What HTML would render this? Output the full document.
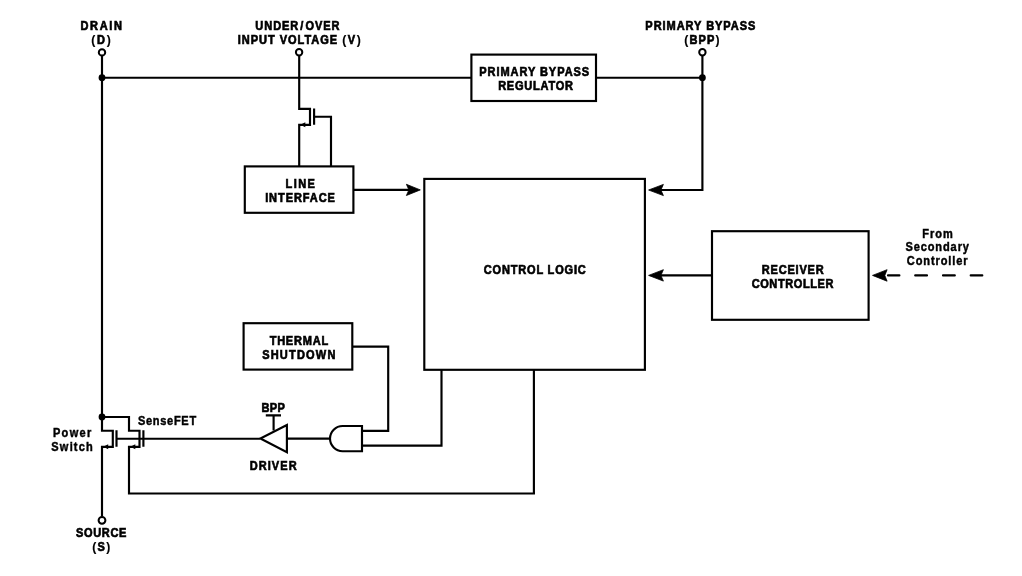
<!DOCTYPE html>
<html><head><meta charset="utf-8">
<style>
html,body{margin:0;padding:0;background:#fff;}
svg{display:block;will-change:transform;}
text{font-family:"Liberation Sans",sans-serif;font-weight:bold;font-size:12px;fill:#000;stroke:#000;stroke-width:0.65px;}
.lc{stroke-width:0.45px;}
.p{font-size:13.2px;stroke-width:0.15px;}
</style></head><body>
<svg width="1022" height="576" viewBox="0 0 1022 576">
<g fill="none" stroke="#000" stroke-width="2.15" stroke-linejoin="miter" stroke-linecap="butt">
<!-- top bus -->
<path d="M102,77.7H471.4M596,77.7H702.4"/>
<!-- drain vertical & power switch -->
<path d="M102,56V430.7H112.8V446.8H102V516.5"/>
<path d="M102,417H129V430.7H139.5V446.8H129V493.5H533.9V369.8"/>
<path d="M116.5,430.3V446.7M143.4,430.3V446.7M116.5,438.75H259.9"/>
<!-- driver -->
<path d="M286.9,425L260.4,438.5L286.9,452.2Z"/>
<path d="M273.6,430.4V415.4M265.8,415.4H281"/>
<path d="M286.9,438.6H330.4"/>
<!-- and gate -->
<path d="M362,426H342.6A12.6,12.6 0 0 0 342.6,451.2H362Z"/>
<path d="M362,430.9H388.2V346.6H352.3M362,445.6H441.5V369.8"/>
<!-- V pin mosfet -->
<path d="M299.2,56V108.8H310V124.8H299.2V166.2"/>
<path d="M314.1,108.6V124.7M314.1,116.7H331V166.2"/>
<!-- BPP -->
<path d="M702.4,56V190H661"/>
<!-- LI to CL -->
<path d="M353.4,189.9H409"/>
<!-- RC to CL -->
<path d="M712.2,275.4H661"/>
<!-- dashed -->
<path d="M888,275.4H899.4M915.2,275.4H927M943,275.4H954.8M970.7,275.4H982.3" stroke-linecap="round"/>
<!-- boxes -->
<rect x="471.4" y="54.6" width="124.6" height="46.4"/>
<rect x="244.8" y="166.4" width="108.6" height="46.4"/>
<rect x="424.3" y="178.9" width="220.6" height="190.9"/>
<rect x="712" y="231.2" width="156.6" height="88.6"/>
<rect x="243.6" y="323.2" width="108.7" height="46.4"/>
</g>
<!-- arrowheads -->
<g fill="#000">
<g stroke="#000" stroke-width="0.8" stroke-linejoin="round">
<path d="M420.3,189.9L406.4,184.3L408.9,189.9L406.4,195.5Z"/>
<path d="M648.6,190L663.4,184.4L660.9,190L663.4,195.6Z"/>
<path d="M648.6,275.4L663.4,269.7L660.9,275.4L663.4,281.1Z"/>
<path d="M872.5,275.4L887.1,269.7L884.8,275.4L887.1,281.2Z"/>
</g>
<path d="M300.3,124.8L305.3,122.3L305.3,127.3Z"/>
<path d="M103.2,446.8L108.2,444.3L108.2,449.3Z"/>
<path d="M130.3,446.8L135.3,444.3L135.3,449.3Z"/>
<circle cx="102" cy="77.7" r="3.4"/>
<circle cx="702.4" cy="77.7" r="3.4"/>
<circle cx="102" cy="417" r="3.4"/>
</g>
<g fill="#fff" stroke="#000" stroke-width="2">
<circle cx="102" cy="52.4" r="3.2"/>
<circle cx="299.1" cy="52.3" r="3.2"/>
<circle cx="702.4" cy="52.3" r="3.2"/>
<circle cx="102" cy="520.3" r="3.4"/>
</g>
<g text-anchor="middle">
<text transform="scale(0.92,1)" x="110.05" y="30.30" textLength="45.11" lengthAdjust="spacing">DRAIN</text>
<text transform="scale(0.92,1)" x="109.89" y="43.90" textLength="21.30" lengthAdjust="spacing"><tspan class="p">(</tspan><tspan dx="0.3">D</tspan><tspan class="p" dx="0.3">)</tspan></text>
<text transform="scale(0.92,1)" x="323.32" y="30.40" textLength="91.52" lengthAdjust="spacing">UNDER<tspan dx="1.2">/</tspan><tspan dx="1.2">O</tspan>VER</text>
<text transform="scale(0.92,1)" x="325.22" y="44.40" textLength="133.70" lengthAdjust="spacing">INPUT VOLTAGE <tspan class="p">(</tspan><tspan dx="0.6">V</tspan><tspan class="p" dx="0.6">)</tspan></text>
<text transform="scale(0.92,1)" x="761.25" y="30.00" textLength="119.57" lengthAdjust="spacing">PRIMARY BYPASS</text>
<text transform="scale(0.92,1)" x="762.99" y="43.80" textLength="38.48" lengthAdjust="spacing"><tspan class="p">(</tspan>BPP<tspan class="p">)</tspan></text>
<text transform="scale(0.92,1)" x="580.65" y="76.30" textLength="119.57" lengthAdjust="spacing">PRIMARY BYPASS</text>
<text transform="scale(0.92,1)" x="582.17" y="89.80" textLength="81.41" lengthAdjust="spacing">REGULATOR</text>
<text transform="scale(0.92,1)" x="326.36" y="188.50" textLength="31.96" lengthAdjust="spacing">LINE</text>
<text transform="scale(0.92,1)" x="326.14" y="202.50" textLength="75.87" lengthAdjust="spacing">INTERFACE</text>
<text transform="scale(0.92,1)" x="581.30" y="274.30" textLength="110.76" lengthAdjust="spacing">CONTROL LOGIC</text>
<text transform="scale(0.92,1)" x="861.68" y="274.00" textLength="67.39" lengthAdjust="spacing">RECEIVER</text>
<text transform="scale(0.92,1)" x="861.47" y="288.00" textLength="88.91" lengthAdjust="spacing">CONTROLLER</text>
<text class="lc" transform="scale(0.92,1)" x="1018.97" y="238.30" textLength="33.26" lengthAdjust="spacing">From</text>
<text class="lc" transform="scale(0.92,1)" x="1018.70" y="251.30" textLength="69.02" lengthAdjust="spacing">Secondary</text>
<text class="lc" transform="scale(0.92,1)" x="1018.70" y="265.20" textLength="65.98" lengthAdjust="spacing">Controller</text>
<text transform="scale(0.92,1)" x="324.89" y="345.20" textLength="63.59" lengthAdjust="spacing">THERMAL</text>
<text transform="scale(0.92,1)" x="324.73" y="359.10" textLength="79.57" lengthAdjust="spacing">SHUTDOWN</text>
<text transform="scale(0.92,1)" x="296.90" y="412.00" textLength="25.43" lengthAdjust="spacing">BPP</text>
<text transform="scale(0.92,1)" x="296.90" y="470.00" textLength="51.09" lengthAdjust="spacing">DRIVER</text>
<text class="lc" transform="scale(0.92,1)" x="181.58" y="425.40" textLength="63.26" lengthAdjust="spacing">SenseFET</text>
<text class="lc" transform="scale(0.92,1)" x="78.37" y="437.10" textLength="41.63" lengthAdjust="spacing">Power</text>
<text class="lc" transform="scale(0.92,1)" x="78.32" y="450.90" textLength="45.00" lengthAdjust="spacing">Switch</text>
<text transform="scale(0.92,1)" x="110.00" y="537.20" textLength="54.67" lengthAdjust="spacing">SOURCE</text>
<text transform="scale(0.92,1)" x="110.11" y="550.70" textLength="19.67" lengthAdjust="spacing"><tspan class="p">(</tspan><tspan dx="0.6">S</tspan><tspan class="p" dx="0.6">)</tspan></text>
</g>
</svg>
</body></html>
